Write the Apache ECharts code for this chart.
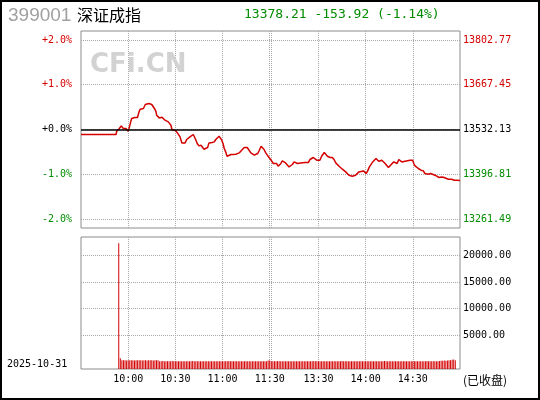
<!DOCTYPE html>
<html><head><meta charset="utf-8">
<script src="https://cdn.jsdelivr.net/npm/echarts@6/dist/echarts.min.js"></script>
<style>html,body{margin:0;padding:0;background:#fff}#c{width:540px;height:400px}</style>
</head><body><div id="c"></div>
<script>
const indexCode = '399001';
const indexName = '深证成指';
const lastPrice = 13378.21;
const change = -153.92;
const changePct = -1.14;
const prevClose = 13532.13;
const tradeDate = '2025-10-31';
const statusText = '(已收盘)';
const watermark = 'CFi.CN';
const pctTicks = [-2, -1, 0, 1, 2];
const volTicks = [5000, 10000, 15000, 20000];
// time slots: 0 = 9:30 ... 120 = 11:30, 121 = 13:00 ... 241 = 15:00
const slotCount = 241;
const gridSlots = [30, 60, 90, 120, 121, 151, 181, 211];
const labelSlots = [30, 60, 90, 120, 151, 181, 211];
const timeLabels = ['10:00', '10:30', '11:00', '11:30', '13:30', '14:00', '14:30'];

// [time slot, index value]
const lineData = [
[0,13517.02],[22.3,13517.02],[22.7,13526.99],[23.3,13530.01],[24.4,13535.15],[25.0,13538.18],[25.6,13543.01],[26.5,13543.01],[26.9,13535.15],[28.0,13530.92],
[28.6,13535.15],[29.2,13530.01],[29.9,13526.99],[30.5,13535.15],[31.1,13545.13],[31.6,13555.10],[32.2,13565.38],[32.8,13567.19],[34.3,13568.40],[35.9,13568.40],
[36.5,13573.24],[36.9,13585.33],[37.6,13593.49],[38.6,13595.60],[39.7,13595.60],[40.3,13598.63],[40.9,13607.70],[41.8,13611.62],[43.1,13610.72],[43.9,13605.58],
[45.0,13607.70],[46.0,13602.56],[47.1,13592.58],[47.7,13585.33],[48.1,13575.35],[48.8,13570.21],[49.8,13567.19],[50.9,13565.38],[51.5,13569.31],[52.3,13565.38],
[53.4,13560.24],[54.5,13558.12],[55.5,13555.10],[56.6,13553.29],[57.2,13545.13],[57.8,13532.13],[58.6,13527.90],[60.3,13527.90],[61.3,13521.85],[62.4,13517.92],
[63.0,13509.76],[64.1,13491.63],[65.1,13489.81],[66.2,13491.63],[67.2,13501.90],[68.2,13504.93],[69.3,13509.76],[70.4,13512.78],[71.4,13517.02],[72.0,13511.88],
[72.9,13501.90],[73.9,13489.81],[75.0,13482.56],[76.3,13484.68],[77.1,13481.65],[78.2,13472.59],[79.3,13476.51],[80.5,13477.72],[81.4,13491.63],[82.2,13494.65],
[83.4,13492.84],[84.8,13494.65],[85.7,13501.90],[86.7,13506.74],[87.8,13511.88],[88.6,13509.76],[89.5,13499.79],[90.3,13489.81],[91.1,13474.70],[92.0,13464.42],
[92.9,13451.43],[93.7,13452.33],[95.4,13456.57],[96.7,13456.57],[97.5,13454.45],[98.4,13457.47],[99.6,13454.45],[100.6,13461.40],[101.7,13467.45],[102.8,13472.59],
[103.8,13477.72],[104.9,13481.65],[105.7,13477.72],[106.8,13474.70],[108.0,13461.40],[109.2,13459.59],[110.2,13454.45],[111.3,13451.43],[112.4,13459.59],[113.4,13469.56],
[114.5,13481.65],[115.6,13477.72],[116.4,13471.68],[117.5,13461.40],[118.5,13454.45],[119.5,13449.31],[120.6,13441.45],[121.3,13437.22],[122.3,13429.36],[124.4,13429.36],
[125.4,13421.20],[126.1,13417.27],[127.1,13429.36],[128.0,13437.22],[129.0,13436.31],[130.1,13431.18],[131.1,13426.34],[132.3,13419.09],[133.4,13417.27],[134.4,13426.34],
[135.5,13434.20],[136.6,13437.22],[137.6,13429.36],[138.7,13427.24],[139.7,13431.18],[140.7,13434.20],[142.4,13432.38],[144.5,13432.38],[145.6,13441.45],[146.7,13444.47],
[147.7,13447.50],[148.8,13444.47],[149.9,13439.34],[150.9,13441.45],[151.9,13439.34],[153.0,13451.43],[154.0,13457.47],[154.7,13462.61],[155.7,13456.57],[156.7,13451.43],
[158.4,13447.50],[159.8,13447.50],[160.9,13441.45],[162.0,13431.18],[163.0,13426.34],[164.1,13421.20],[165.1,13419.09],[166.2,13412.13],[167.2,13406.99],[168.3,13403.97],
[169.3,13400.95],[170.4,13394.00],[171.5,13390.97],[172.5,13390.97],[173.6,13394.00],[174.6,13394.00],[175.6,13397.02],[176.7,13403.97],[177.8,13406.99],[179.6,13406.99],
[180.6,13402.16],[181.3,13399.14],[182.3,13406.99],[183.4,13419.09],[184.4,13424.22],[185.5,13434.20],[186.5,13439.34],[187.6,13444.47],[188.7,13442.36],[189.3,13436.31],
[190.2,13441.45],[191.3,13439.34],[192.3,13434.20],[193.4,13429.36],[194.5,13424.22],[195.5,13417.27],[196.2,13412.13],[196.8,13424.22],[197.9,13429.36],[198.9,13434.20],
[199.9,13431.18],[201.0,13429.36],[202.1,13441.45],[203.1,13437.22],[204.0,13434.20],[205.0,13432.38],[206.1,13436.31],[207.1,13439.34],[209.2,13439.34],[210.9,13439.34],
[211.6,13429.36],[212.4,13422.11],[213.5,13419.09],[214.5,13414.25],[216.2,13409.11],[217.7,13406.99],[218.7,13399.14],[220.8,13397.02],[222.3,13399.14],[223.4,13396.11],
[225.1,13394.00],[226.1,13390.97],[227.7,13387.05],[229.4,13388.86],[230.9,13387.05],[232.1,13385.84],[233.6,13381.91],[235.7,13381.91],[237.4,13378.89],[238.9,13378.89],
[241,13378.21]
];

// volume per time slot, starting at slot volStart
const volStart = 24;
const volumes = [
22240,700,
330,330,330,280,330,330,330,330,280,330,330,330,330,280,330,330,280,330,330,330,280,330,330,330,
150,150,200,150,150,150,150,150,200,150,
150,150,150,150,150,150,150,150,150,150,
150,200,150,150,150,150,150,150,150,150,
150,150,150,150,150,150,150,150,150,150,
150,150,150,150,200,150,150,150,150,150,
150,150,150,150,150,150,150,150,150,150,
150,150,150,150,150,150,150,150,150,300,
300,150,
150,150,150,200,150,150,150,150,150,150,
150,150,150,150,150,150,150,150,150,150,
150,150,150,150,150,150,200,150,150,150,
150,150,150,150,150,150,150,150,150,150,
150,150,150,150,200,150,150,150,150,150,
150,150,150,150,150,150,150,150,150,150,
150,150,150,150,150,150,150,150,150,150,
150,200,150,150,150,150,150,150,150,150,
150,150,150,150,150,150,150,150,150,150,
150,150,150,150,150,150,150,150,200,150,
150,150,150,150,150,150,200,
240,240,280,240,280,330,330,420,500,330
];

const RED = '#d40000', GREEN = '#008c00';
const MONO = 'DejaVu Sans Mono';
const pctRange = 2.2;
const priceMin = prevClose * (1 - pctRange / 100);
const priceMax = prevClose * (1 + pctRange / 100);
const priceTicks = pctTicks.map(p => prevClose * (1 + p / 100));
const volMin = -1290, volMax = 23415;
const volData = volumes.map((v, i) => [volStart + i, v]);
const signColor = s => (s > 0 ? RED : s < 0 ? GREEN : '#000');
const gridLine = { show: true, lineStyle: { color: '#a8a8a8', type: [1, 1], width: 1 } };

const chart = echarts.init(document.getElementById('c'), null, { renderer: 'canvas' });
chart.setOption({
  animation: false,
  backgroundColor: '#fff',
  grid: [
    { left: 81, top: 31, width: 379, height: 197, show: true, borderColor: '#8c8c8c', borderWidth: 1, backgroundColor: '#fff' },
    { left: 81, top: 237, width: 379, height: 132, show: true, borderColor: '#8c8c8c', borderWidth: 1, backgroundColor: '#fff' }
  ],
  xAxis: [
    { type: 'value', gridIndex: 0, min: 0, max: slotCount,
      axisLine: { show: false }, axisTick: { show: false, customValues: gridSlots }, axisLabel: { show: false }, splitLine: gridLine },
    { type: 'value', gridIndex: 1, min: 0, max: slotCount,
      axisLine: { show: false }, axisTick: { show: false, customValues: gridSlots },
      axisLabel: { show: true, customValues: labelSlots, margin: 5, fontFamily: MONO, fontSize: 10, color: '#000',
        formatter: v => { const i = labelSlots.indexOf(Number(v)); return i >= 0 ? timeLabels[i] : ''; } },
      splitLine: gridLine }
  ],
  yAxis: [
    { type: 'value', gridIndex: 0, position: 'left', min: -pctRange, max: pctRange,
      axisLine: { show: false }, axisTick: { show: false, customValues: pctTicks },
      axisLabel: { customValues: pctTicks, margin: 9, fontFamily: MONO, fontSize: 10,
        formatter: v => (v >= 0 ? '+' : '') + Number(v).toFixed(1) + '%',
        color: v => signColor(parseFloat(v)) },
      splitLine: gridLine },
    { type: 'value', gridIndex: 0, position: 'right', min: priceMin, max: priceMax,
      axisLine: { show: false }, axisTick: { show: false, customValues: priceTicks },
      axisLabel: { customValues: priceTicks, margin: 3, fontFamily: MONO, fontSize: 10,
        formatter: v => Number(v).toFixed(2),
        color: v => signColor(Math.round((parseFloat(v) - prevClose) * 100) / 100) },
      splitLine: { show: false } },
    { type: 'value', gridIndex: 1, position: 'right', min: volMin, max: volMax, startValue: volMin,
      axisLine: { show: false }, axisTick: { show: false, customValues: volTicks },
      axisLabel: { customValues: volTicks, margin: 3, fontFamily: MONO, fontSize: 10, color: '#000',
        formatter: v => Number(v).toFixed(2) },
      splitLine: gridLine }
  ],
  series: [
    { type: 'line', xAxisIndex: 0, yAxisIndex: 1, data: lineData, symbol: 'none', showSymbol: false,
      lineStyle: { color: RED, width: 1.5 }, z: 3,
      markLine: { silent: true, symbol: 'none', label: { show: false }, animation: false,
        lineStyle: { color: '#000', width: 1.5, type: 'solid' }, data: [{ yAxis: prevClose }] } },
    { type: 'bar', xAxisIndex: 1, yAxisIndex: 2, data: volData, barWidth: 1,
      itemStyle: { color: RED }, z: 3 }
  ],
  graphic: [
    { type: 'text', x: 8, y: 16, z: 10, style: { text: indexCode, font: '19px "Liberation Sans"', fill: '#a0a0a0', verticalAlign: 'middle' } },
    { type: 'text', x: 77, y: 15, z: 10, style: { text: indexName, font: '16px "Noto Sans CJK SC"', fill: '#000', verticalAlign: 'middle' } },
    { type: 'text', x: 244, y: 15, z: 10, style: { text: lastPrice.toFixed(2) + ' ' + change.toFixed(2) + ' (' + changePct.toFixed(2) + '%)', font: '13px "DejaVu Sans Mono"', fill: GREEN, verticalAlign: 'middle' } },
    { type: 'text', x: 90, y: 65, z: 10, style: { text: watermark, font: 'bold 26px "DejaVu Sans"', fill: '#d2d2d2', verticalAlign: 'middle' } },
    { type: 'text', x: 7, y: 364, z: 10, style: { text: tradeDate, font: '10px "DejaVu Sans Mono"', fill: '#000', verticalAlign: 'middle' } },
    { type: 'text', x: 463, y: 380, z: 10, style: { text: statusText, font: '12px "Noto Sans CJK SC"', fill: '#000', verticalAlign: 'middle' } },
    { type: 'rect', z: 20, shape: { x: 1, y: 1, width: 538, height: 398 }, style: { fill: null, stroke: '#000', lineWidth: 2 } }
  ]
});
</script>
</body></html>
